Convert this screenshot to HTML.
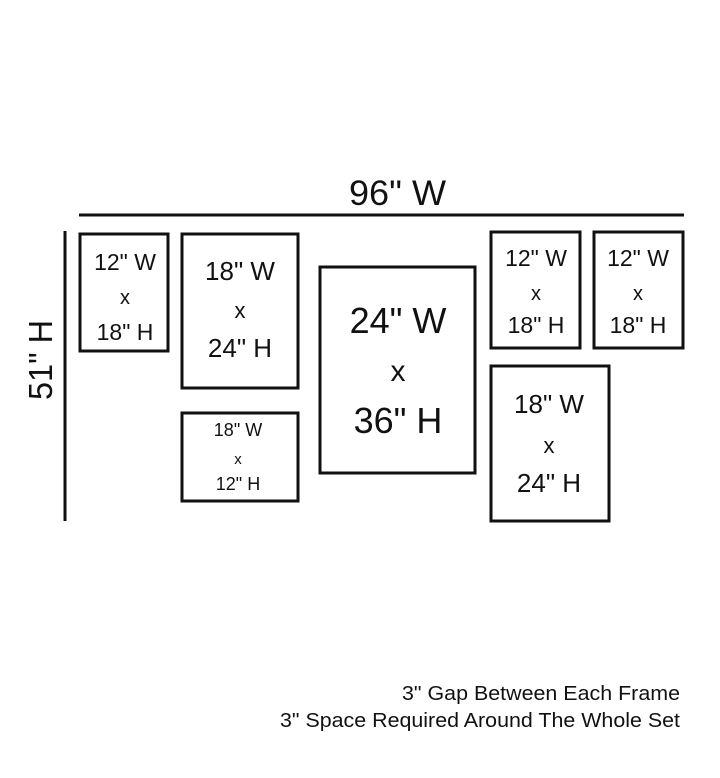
<!DOCTYPE html>
<html><head><meta charset="utf-8"><style>
html,body{margin:0;padding:0;background:#fff;}
svg{display:block;}
text{font-family:"Liberation Sans",sans-serif;fill:#111;}
</style></head><body>
<svg width="720" height="778" viewBox="0 0 720 778" xmlns="http://www.w3.org/2000/svg">
<g fill="none" stroke="#111" stroke-width="3">
<line x1="79" y1="215" x2="684" y2="215"/>
<line x1="65" y1="231" x2="65" y2="521"/>
<rect x="80" y="234" width="88" height="117"/>
<rect x="182" y="234" width="116" height="154"/>
<rect x="182" y="413" width="116" height="88"/>
<rect x="320" y="267" width="155" height="206"/>
<rect x="491" y="232" width="89" height="116"/>
<rect x="594" y="232" width="89" height="116"/>
<rect x="491" y="366" width="118" height="155"/>
</g>
<text x="349" y="205" font-size="35" textLength="97" lengthAdjust="spacingAndGlyphs">96" W</text>
<text transform="translate(52,400) rotate(-90)" font-size="33" textLength="80" lengthAdjust="spacingAndGlyphs">51" H</text>
<g text-anchor="middle">
<text x="125" y="270" font-size="23">12" W</text>
<text x="125" y="304" font-size="20">x</text>
<text x="125" y="340" font-size="23">18" H</text>
<text x="240" y="280" font-size="26">18" W</text>
<text x="240" y="318" font-size="22">x</text>
<text x="240" y="357" font-size="26">24" H</text>
<text x="238" y="436" font-size="18">18" W</text>
<text x="238" y="464" font-size="15">x</text>
<text x="238" y="490" font-size="18">12" H</text>
<text x="398" y="333" font-size="36">24" W</text>
<text x="398" y="381" font-size="30">x</text>
<text x="398" y="433" font-size="36">36" H</text>
<text x="536" y="266" font-size="23">12" W</text>
<text x="536" y="300" font-size="20">x</text>
<text x="536" y="333" font-size="23">18" H</text>
<text x="638" y="266" font-size="23">12" W</text>
<text x="638" y="300" font-size="20">x</text>
<text x="638" y="333" font-size="23">18" H</text>
<text x="549" y="413" font-size="26">18" W</text>
<text x="549" y="453" font-size="22">x</text>
<text x="549" y="492" font-size="26">24" H</text>
</g>
<text x="402" y="700" font-size="20" textLength="278" lengthAdjust="spacingAndGlyphs">3" Gap Between Each Frame</text>
<text x="280" y="727" font-size="20" textLength="400" lengthAdjust="spacingAndGlyphs">3" Space Required Around The Whole Set</text>
</svg>
</body></html>
